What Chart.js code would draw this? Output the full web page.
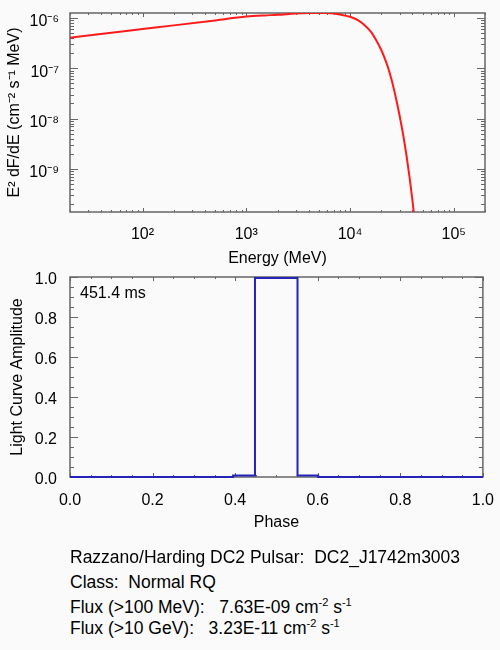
<!DOCTYPE html>
<html>
<head>
<meta charset="utf-8">
<script src="https://cdn.jsdelivr.net/npm/chart.js@4.4.0/dist/chart.umd.min.js"></script>
<style>
  body { margin:0; background:#fafafa; width:500px; height:650px; position:relative; overflow:hidden;
         font-family:"Liberation Sans", Arial, Helvetica, sans-serif; color:#000; }
  canvas { position:absolute; left:0; }
  #specChart { top:0; }
  #lcChart { top:260px; }
  #period { position:absolute; left:80px; top:284px; font-size:16px; line-height:18px; }
  .txt { position:absolute; left:70px; font-size:17.5px; line-height:20px; white-space:pre; }
  .txt sup { font-size:11px; vertical-align:7px; line-height:0; }
</style>
</head>
<body>
<canvas id="specChart" width="500" height="270"></canvas>
<canvas id="lcChart" width="500" height="275"></canvas>
<div id="period">451.4 ms</div>
<div class="txt" style="top:547px">Razzano/Harding DC2 Pulsar:  DC2_J1742m3003</div>
<div class="txt" style="top:572px">Class:  Normal RQ</div>
<div class="txt" style="top:597px">Flux (&gt;100 MeV):   7.63E-09 cm<sup>-2</sup> s<sup>-1</sup></div>
<div class="txt" style="top:618px">Flux (&gt;10 GeV):   3.23E-11 cm<sup>-2</sup> s<sup>-1</sup></div>
<script>
// spectrum (MeV, MeV cm^-2 s^-1)
const energy = [20, 50, 100, 200, 500, 1000, 1500, 2000, 3000, 4000, 5000, 6000, 7000, 8000,
                10000, 12000, 14000, 16000, 18000, 20000, 22500, 25000, 27500, 30000,
                32500, 35000, 37500, 40000, 42000];
const e2dnde = [4.04e-7, 5.06e-7, 6.0e-7, 7.1e-7, 8.9e-7, 1.06e-6, 1.12e-6, 1.15e-6, 1.22e-6, 1.25e-6,
                1.26e-6, 1.25e-6, 1.22e-6, 1.17e-6, 1.05e-6, 8.9e-7, 7.0e-7, 5.2e-7, 3.5e-7, 2.3e-7,
                1.26e-7, 6.2e-8, 2.75e-8, 1.17e-8, 4.8e-9, 1.86e-9, 6.8e-10, 2.35e-10, 9.5e-11];
const energyTicks = [1e2, 1e3, 1e4, 1e5];
const fluxTicks = [1e-9, 1e-8, 1e-7, 1e-6];

// light curve, each value holds from its phase up to the next one
const phase = [0, 0.395, 0.448, 0.551, 0.601, 1.0];
const amplitude = [0, 0.008, 0.995, 0.008, 0, 0];
const phaseTicks = [0, 0.2, 0.4, 0.6, 0.8, 1.0];
const ampTicks = [0, 0.2, 0.4, 0.6, 0.8, 1.0];

Chart.defaults.font.family = '"Liberation Sans", Arial, Helvetica, sans-serif';
Chart.defaults.color = '#000';

const supMap = { '-': '\u207B', '0': '\u2070', '1': '\u00B9', '2': '\u00B2', '3': '\u00B3',
  '4': '\u2074', '5': '\u2075', '6': '\u2076', '7': '\u2077', '8': '\u2078', '9': '\u2079' };
function sup(n) { return String(n).split('').map(c => supMap[c]).join(''); }

function logMinors(min, max) {
  const out = [];
  for (let e = Math.floor(Math.log10(min)); e <= Math.ceil(Math.log10(max)); e++) {
    for (let m = 2; m <= 9; m++) {
      const v = m * Math.pow(10, e);
      if (v >= min && v <= max) out.push(v);
    }
  }
  return out;
}
function linMinors(min, max, step) {
  const out = [];
  for (let v = min; v <= max + 1e-9; v += step) out.push(+v.toFixed(4));
  return out;
}

// IDL style box with inward ticks on all four sides
const frameTicks = {
  id: 'frameTicks',
  beforeDatasetsDraw(chart, args, opts) {
    const { ctx, chartArea: a, scales } = chart;
    ctx.save();
    ctx.strokeStyle = '#666';
    ctx.lineWidth = 1;
    ctx.beginPath();
    const xt = (vals, len) => vals.forEach(v => {
      const px = Math.round(scales.x.getPixelForValue(v)) + 0.5;
      ctx.moveTo(px, a.bottom); ctx.lineTo(px, a.bottom - len);
      ctx.moveTo(px, a.top); ctx.lineTo(px, a.top + len);
    });
    const yt = (vals, len) => vals.forEach(v => {
      const py = Math.round(scales.y.getPixelForValue(v)) + 0.5;
      ctx.moveTo(a.left, py); ctx.lineTo(a.left + len, py);
      ctx.moveTo(a.right, py); ctx.lineTo(a.right - len, py);
    });
    xt(opts.xMajor, 4); xt(opts.xMinor, 2);
    yt(opts.yMajor, 8); yt(opts.yMinor, 4);
    ctx.stroke();
    ctx.lineWidth = 1.5;
    ctx.strokeRect(a.left, a.top, a.right - a.left, a.bottom - a.top);
    ctx.restore();
  }
};

const font16 = { size: 16 };

new Chart(document.getElementById('specChart'), {
  type: 'line',
  data: {
    datasets: [{
      data: energy.map((e, i) => ({ x: e, y: e2dnde[i] })),
      borderColor: '#ff1a1a',
      borderWidth: 2,
      pointRadius: 0,
      cubicInterpolationMode: 'monotone',
      fill: false
    }]
  },
  options: {
    responsive: false,
    animation: false,
    layout: { padding: { top: 13, right: 15, left: 0, bottom: 0 } },
    plugins: {
      legend: { display: false },
      tooltip: { enabled: false },
      frameTicks: { xMajor: energyTicks, xMinor: logMinors(20, 2e5), yMajor: fluxTicks, yMinor: logMinors(1.4e-10, 1.25e-6) }
    },
    scales: {
      x: {
        type: 'logarithmic', min: 20, max: 2e5,
        grid: { display: false }, border: { display: false },
        afterBuildTicks: s => { s.ticks = energyTicks.map(v => ({ value: v })); },
        afterFit: s => { s.height = 58; },
        ticks: { autoSkip: false, maxRotation: 0, padding: 5, font: font16,
                 callback: v => '10' + sup(Math.round(Math.log10(v))) },
        title: { display: true, text: 'Energy (MeV)', font: font16, padding: { top: 0, bottom: 2 } }
      },
      y: {
        type: 'logarithmic', min: 1.4e-10, max: 1.25e-6,
        grid: { display: false }, border: { display: false },
        afterBuildTicks: s => { s.ticks = fluxTicks.map(v => ({ value: v })); },
        afterFit: s => { s.width = 70; },
        ticks: { autoSkip: false, padding: 3, labelOffset: 4, font: font16,
                 callback: v => '10' + sup(Math.round(Math.log10(v))) },
        title: { display: true, text: 'E\u00B2 dF/dE (cm\u207B\u00B2 s\u207B\u00B9 MeV)', font: font16, padding: { top: 5, bottom: 0 } }
      }
    }
  },
  plugins: [frameTicks]
});

new Chart(document.getElementById('lcChart'), {
  type: 'line',
  data: {
    datasets: [{
      data: phase.map((p, i) => ({ x: p, y: amplitude[i] })),
      borderColor: '#2424b8',
      borderWidth: 2,
      pointRadius: 0,
      stepped: true,
      clip: false,
      fill: false
    }]
  },
  options: {
    responsive: false,
    animation: false,
    layout: { padding: { top: 17, right: 15, left: 0, bottom: 0 } },
    plugins: {
      legend: { display: false },
      tooltip: { enabled: false },
      frameTicks: { xMajor: phaseTicks, xMinor: linMinors(0, 1, 0.05), yMajor: ampTicks, yMinor: linMinors(0, 1, 0.05) }
    },
    scales: {
      x: {
        type: 'linear', min: 0, max: 1,
        grid: { display: false }, border: { display: false },
        afterBuildTicks: s => { s.ticks = phaseTicks.map(v => ({ value: v })); },
        afterFit: s => { s.height = 58; },
        ticks: { autoSkip: false, maxRotation: 0, padding: 6, font: font16, callback: v => v.toFixed(1) },
        title: { display: true, text: 'Phase', font: font16, padding: { top: 0, bottom: 3 } }
      },
      y: {
        type: 'linear', min: 0, max: 1,
        grid: { display: false }, border: { display: false },
        afterBuildTicks: s => { s.ticks = ampTicks.map(v => ({ value: v })); },
        afterFit: s => { s.width = 70; },
        ticks: { autoSkip: false, padding: 5, labelOffset: 3, font: font16, callback: v => v.toFixed(1) },
        title: { display: true, text: 'Light Curve Amplitude', font: font16, padding: { top: 8, bottom: 0 } }
      }
    }
  },
  plugins: [frameTicks]
});
</script>
</body>
</html>
